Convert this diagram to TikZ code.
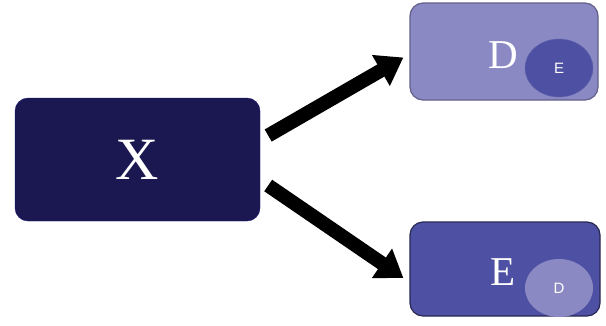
\documentclass[tikz,border=0pt]{standalone}
\usepackage{fontspec}
\setmainfont{Liberation Serif}
\setsansfont{Liberation Sans}
\usetikzlibrary{shapes.geometric,arrows.meta}

\definecolor{xnavy}{HTML}{1B1851}
\definecolor{dlight}{HTML}{8A89C4}
\definecolor{emid}{HTML}{4E51A3}

\begin{document}
\begin{tikzpicture}[x=1pt,y=-1pt]
    \tikzset{
        box/.style={
            rectangle, rounded corners=13pt, inner sep=0pt,
        },
        bigletter/.style={text=white, font=\fontsize{#1}{#1}\selectfont},
        blob/.style={
            ellipse, inner sep=0pt, minimum width=68pt, minimum height=58pt,
            text=white, font=\sffamily\fontsize{15}{15}\selectfont,
        },
        bigarrow/.style={
            line width=14pt, black,
            -{Triangle[length=26pt,width=34pt]},
        },
    }
    \useasboundingbox (0,0) rectangle (606,325);

    % Boxes
    \node[box, fill=xnavy, draw=xnavy!80!blue, minimum width=245pt, minimum height=123pt] (X) at (137.5,159.5) {};
    \node[box, fill=dlight, draw=dlight!70!black, line width=1.2pt, minimum width=188pt, minimum height=97pt] (D) at (504,51.5) {};
    \node[box, fill=emid, draw=emid!50!black, line width=1.2pt, minimum width=190pt, minimum height=94pt] (E) at (505,269) {};

    % Letters
    \node[bigletter=60] (xtext) at (X.center) {X};
    \node[bigletter=41] (dtext) at (503,55) {D};
    \node[bigletter=41] (etext) at (503,272) {E};

    % Circles
    \node[blob, fill=emid, draw=emid!70!dlight] (einD) at (559,68) {E};
    \node[blob, fill=dlight] (dinE) at (559,288) {D};

    % Arrows
    \draw[bigarrow] ([shift={(8,-24)}]X.east) -- ([shift={(-6,6)}]D.west);
    \draw[bigarrow] ([shift={(8,26)}]X.east) -- ([shift={(-6,9)}]E.west);

\end{tikzpicture}
\end{document}
